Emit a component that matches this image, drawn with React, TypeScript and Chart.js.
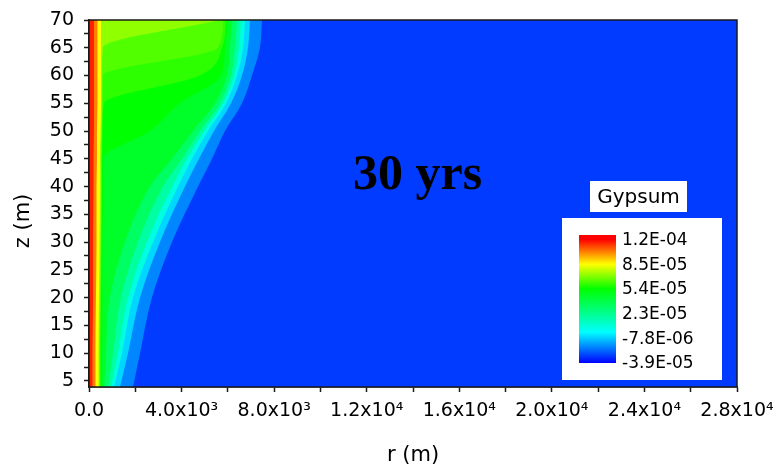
import React, { useEffect, useRef } from "react";
import { Chart, registerables } from "chart.js";

Chart.register(...registerables);

// ---------------- data ----------------
// depth levels (m) at which the contour positions were read
const Z_LEVELS = [3.9, 10, 20, 30, 40, 45, 50, 55, 60, 65, 70];

// Gypsum contour levels (colour-bar units) and the radial position r (m) of each contour per depth
const CONTOUR_LEVELS = [1.08e-4, 9.3e-5, 7.7e-5, 6.6e-5, 6.2e-5, 5.7e-5, 5.1e-5, 3.9e-5, 2.6e-5, 1.2e-5, 0, -1.3e-5, -2.4e-5];
const R_108E6 = [150, 150, 175, 175, 195, 195, 215, 215, 215, 215, 215];
const R_93E6 = [280, 280, 300, 325, 325, 345, 345, 365, 365, 365, 365];
const R_77E6 = [410, 410, 430, 455, 475, 475, 495, 520, 520, 520, 520];
const R_66E6 = [450, 450, 475, 500, 520, 520, 540, 560, 560, 600, 5660];
const R_62E6 = [475, 475, 500, 520, 540, 540, 560, 580, 600, 5570, 5790];
const R_57E6 = [500, 500, 520, 540, 560, 560, 580, 650, 4800, 5750, 5920];
const R_51E6 = [540, 560, 580, 580, 620, 620, 2635, 3930, 5700, 5875, 6005];
const R_39E6 = [650, 735, 905, 1555, 2635, 3585, 4495, 5445, 5960, 6090, 6180];
const R_26E6 = [820, 1035, 1380, 2115, 3195, 4020, 4795, 5660, 6135, 6305, 6395];
const R_12E6 = [950, 1250, 1685, 2505, 3585, 4235, 4970, 5790, 6265, 6480, 6565];
const R_0 = [1080, 1425, 1900, 2765, 3845, 4450, 5140, 5920, 6395, 6655, 6740];
const R_M13E6 = [1340, 1685, 2205, 3065, 4145, 4750, 5400, 6135, 6610, 6870, 6955];
const R_M24E6 = [1900, 2205, 2720, 3585, 4710, 5315, 5875, 6610, 7040, 7385, 7475];
const CONTOUR_R = [R_108E6, R_93E6, R_77E6, R_66E6, R_62E6, R_57E6, R_51E6, R_39E6, R_26E6, R_12E6, R_0, R_M13E6, R_M24E6];
const FAR_FIELD_VALUE = -3.0e-5;
const R_MAX = 28000;

// colour bar
const COLORBAR_TITLE = "Gypsum";
const COLORBAR_LABELS = ["1.2E-04", "8.5E-05", "5.4E-05", "2.3E-05", "-7.8E-06", "-3.9E-05"];
const V_MIN = -3.9e-5;
const V_MAX = 1.16e-4;

// axes
const X_TICK_VALUES = [0, 4000, 8000, 12000, 16000, 20000, 24000, 28000];
const X_TICK_LABELS = ["0.0", "4.0x10³", "8.0x10³", "1.2x10⁴", "1.6x10⁴", "2.0x10⁴", "2.4x10⁴", "2.8x10⁴"];
const Y_TICK_VALUES = [5, 10, 15, 20, 25, 30, 35, 40, 45, 50, 55, 60, 65, 70];
const Z_MIN = 3.9;
const Z_MAX = 70;
const X_TITLE = "r (m)";
const Y_TITLE = "z (m)";
const Y_TITLE_AT_Z = 33.8;

const ANNOTATION_TEXT = "30 yrs";
const ANNOTATION_R = 14200;
const ANNOTATION_Z = 39.5;

// ---------------- style ----------------
const CMAP_STOPS = [0, 0.25, 0.42, 0.6, 0.8, 0.9, 1];
const CMAP_RGB = [
  [0, 0, 255],
  [0, 255, 255],
  [0, 255, 128],
  [0, 255, 0],
  [255, 255, 0],
  [255, 128, 0],
  [255, 0, 0],
];
const SANS = "'DejaVu Sans', sans-serif";

function colorAtFraction(f: number): string {
  const t = Math.max(0, Math.min(1, f));
  for (let i = 1; i < CMAP_STOPS.length; i++) {
    if (t <= CMAP_STOPS[i]) {
      const a = CMAP_STOPS[i - 1];
      const b = CMAP_STOPS[i];
      const u = (t - a) / (b - a);
      const c0 = CMAP_RGB[i - 1];
      const c1 = CMAP_RGB[i];
      const c = c0.map((v, k) => Math.round(v + (c1[k] - v) * u));
      return `rgb(${c[0]},${c[1]},${c[2]})`;
    }
  }
  const c = CMAP_RGB[CMAP_RGB.length - 1];
  return `rgb(${c[0]},${c[1]},${c[2]})`;
}
const colorForValue = (v: number) => colorAtFraction((v - V_MIN) / (V_MAX - V_MIN));

const framePlugin = {
  id: "frame",
  afterDatasetsDraw(chart: any) {
    const { ctx, chartArea: a } = chart;
    ctx.save();
    ctx.strokeStyle = "#1a1a1a";
    ctx.lineWidth = 1.5;
    ctx.strokeRect(a.left, a.top, a.right - a.left, a.bottom - a.top);
    ctx.restore();
  },
};

const overlayPlugin = {
  id: "overlay",
  afterDraw(chart: any) {
    const { ctx, chartArea: a, scales } = chart;
    ctx.save();
    // y axis title
    ctx.save();
    ctx.translate(scales.y.left + 24, scales.y.getPixelForValue(Y_TITLE_AT_Z));
    ctx.rotate(-Math.PI / 2);
    ctx.fillStyle = "#000";
    ctx.font = `21px ${SANS}`;
    ctx.textAlign = "center";
    ctx.textBaseline = "middle";
    ctx.fillText(Y_TITLE, 0, 0);
    ctx.restore();

    // annotation
    ctx.fillStyle = "#000";
    ctx.font = "bold 50px 'Liberation Serif', serif";
    ctx.textAlign = "center";
    ctx.textBaseline = "alphabetic";
    ctx.fillText(ANNOTATION_TEXT, scales.x.getPixelForValue(ANNOTATION_R), scales.y.getPixelForValue(ANNOTATION_Z));

    // colour-bar title box
    const tL = a.right - 147, tT = a.bottom - 206, tW = 97, tH = 31;
    ctx.fillStyle = "#fff";
    ctx.fillRect(tL, tT, tW, tH);
    ctx.fillStyle = "#000";
    ctx.font = `20px ${SANS}`;
    ctx.textAlign = "center";
    ctx.textBaseline = "middle";
    ctx.fillText(COLORBAR_TITLE, tL + tW / 2, tT + tH / 2 + 1);

    // colour-bar box
    const bL = a.right - 175, bT = a.bottom - 169, bW = 160, bH = 162;
    ctx.fillStyle = "#fff";
    ctx.fillRect(bL, bT, bW, bH);
    const barL = bL + 17, barT = bT + 17, barW = 37, barB = bT + 145;
    const fTop = barT + 4.5;
    const grad = ctx.createLinearGradient(0, barB, 0, fTop);
    for (let i = 0; i < CMAP_STOPS.length; i++) {
      const c = CMAP_RGB[i];
      grad.addColorStop(CMAP_STOPS[i], `rgb(${c[0]},${c[1]},${c[2]})`);
    }
    ctx.fillStyle = grad;
    ctx.fillRect(barL, barT, barW, barB - barT);
    ctx.fillStyle = "#000";
    ctx.font = `17px ${SANS}`;
    ctx.textAlign = "left";
    ctx.textBaseline = "middle";
    const step = (barB - fTop) / (COLORBAR_LABELS.length - 1);
    COLORBAR_LABELS.forEach((lab, i) => {
      ctx.fillText(lab, barL + barW + 6, fTop + i * step + 1);
    });
    ctx.restore();
  },
};

export default function App() {
  const ref = useRef<HTMLCanvasElement | null>(null);

  useEffect(() => {
    if (!ref.current) return;

    const datasets: any[] = CONTOUR_R.map((rs, i) => {
      const upper = i === 0 ? V_MAX : CONTOUR_LEVELS[i - 1];
      const bandValue = (upper + CONTOUR_LEVELS[i]) / 2;
      return {
        label: `c${i}`,
        data: Z_LEVELS.map((z, k) => ({ x: rs[k], y: z })),
        backgroundColor: colorForValue(bandValue),
        borderWidth: 0,
        pointRadius: 0,
        pointHoverRadius: 0,
        cubicInterpolationMode: "monotone",
        fill: { value: 0 },
      };
    });
    datasets.push({
      label: "far",
      data: Z_LEVELS.map((z) => ({ x: R_MAX, y: z })),
      backgroundColor: colorForValue(FAR_FIELD_VALUE),
      borderWidth: 0,
      pointRadius: 0,
      pointHoverRadius: 0,
      fill: { value: 0 },
    });

    const xAll: number[] = [];
    for (let i = 0; i < X_TICK_VALUES.length; i++) {
      xAll.push(X_TICK_VALUES[i]);
      if (i < X_TICK_VALUES.length - 1) xAll.push((X_TICK_VALUES[i] + X_TICK_VALUES[i + 1]) / 2);
    }
    const yAll: number[] = [];
    for (let i = 0; i < Y_TICK_VALUES.length; i++) {
      yAll.push(Y_TICK_VALUES[i]);
      if (i < Y_TICK_VALUES.length - 1) yAll.push((Y_TICK_VALUES[i] + Y_TICK_VALUES[i + 1]) / 2);
    }

    const tickGrid = {
      display: true,
      drawOnChartArea: false,
      drawTicks: true,
      tickLength: 5,
      tickWidth: 1.5,
      tickColor: "#1a1a1a",
    };

    const chart = new Chart(ref.current, {
      type: "line",
      data: { datasets },
      options: {
        indexAxis: "y",
        animation: false,
        responsive: true,
        maintainAspectRatio: false,
        events: [],
        layout: { padding: { left: 0, right: 36, top: 20, bottom: 0 } },
        plugins: {
          legend: { display: false },
          tooltip: { enabled: false },
          filler: { propagate: false },
        },
        scales: {
          x: {
            type: "linear",
            position: "bottom",
            min: 0,
            max: R_MAX,
            afterBuildTicks: (s: any) => {
              s.ticks = xAll.map((v) => ({ value: v }));
            },
            afterFit: (s: any) => {
              s.height = 81;
              s.paddingLeft = 0;
              s.paddingRight = 0;
            },
            ticks: {
              autoSkip: false,
              maxRotation: 0,
              minRotation: 0,
              padding: 8,
              color: "#000",
              font: { family: SANS, size: 19 },
              callback: (v: any) => {
                const i = X_TICK_VALUES.indexOf(Number(v));
                return i >= 0 ? X_TICK_LABELS[i] : "";
              },
            },
            grid: tickGrid,
            border: { display: true, color: "#1a1a1a", width: 1.5 },
            title: {
              display: true,
              text: X_TITLE,
              color: "#000",
              font: { family: SANS, size: 21 },
              padding: { top: 0, bottom: 0 },
            },
          },
          y: {
            type: "linear",
            position: "left",
            min: Z_MIN,
            max: Z_MAX,
            afterBuildTicks: (s: any) => {
              s.ticks = yAll.map((v) => ({ value: v }));
            },
            afterFit: (s: any) => {
              s.width = 89;
              s.paddingTop = 0;
              s.paddingBottom = 0;
            },
            ticks: {
              autoSkip: false,
              padding: 10,
              color: "#000",
              font: { family: SANS, size: 19 },
              callback: (v: any) => (Y_TICK_VALUES.indexOf(Number(v)) >= 0 ? String(v) : ""),
            },
            grid: tickGrid,
            border: { display: true, color: "#1a1a1a", width: 1.5 },
            title: { display: false },
          },
        },
      } as any,
      plugins: [framePlugin, overlayPlugin],
    });

    return () => chart.destroy();
  }, []);

  return (
    <div style={{ position: "fixed", left: 0, top: 0, width: 773, height: 468, background: "#fff" }}>
      <canvas ref={ref} />
    </div>
  );
}
